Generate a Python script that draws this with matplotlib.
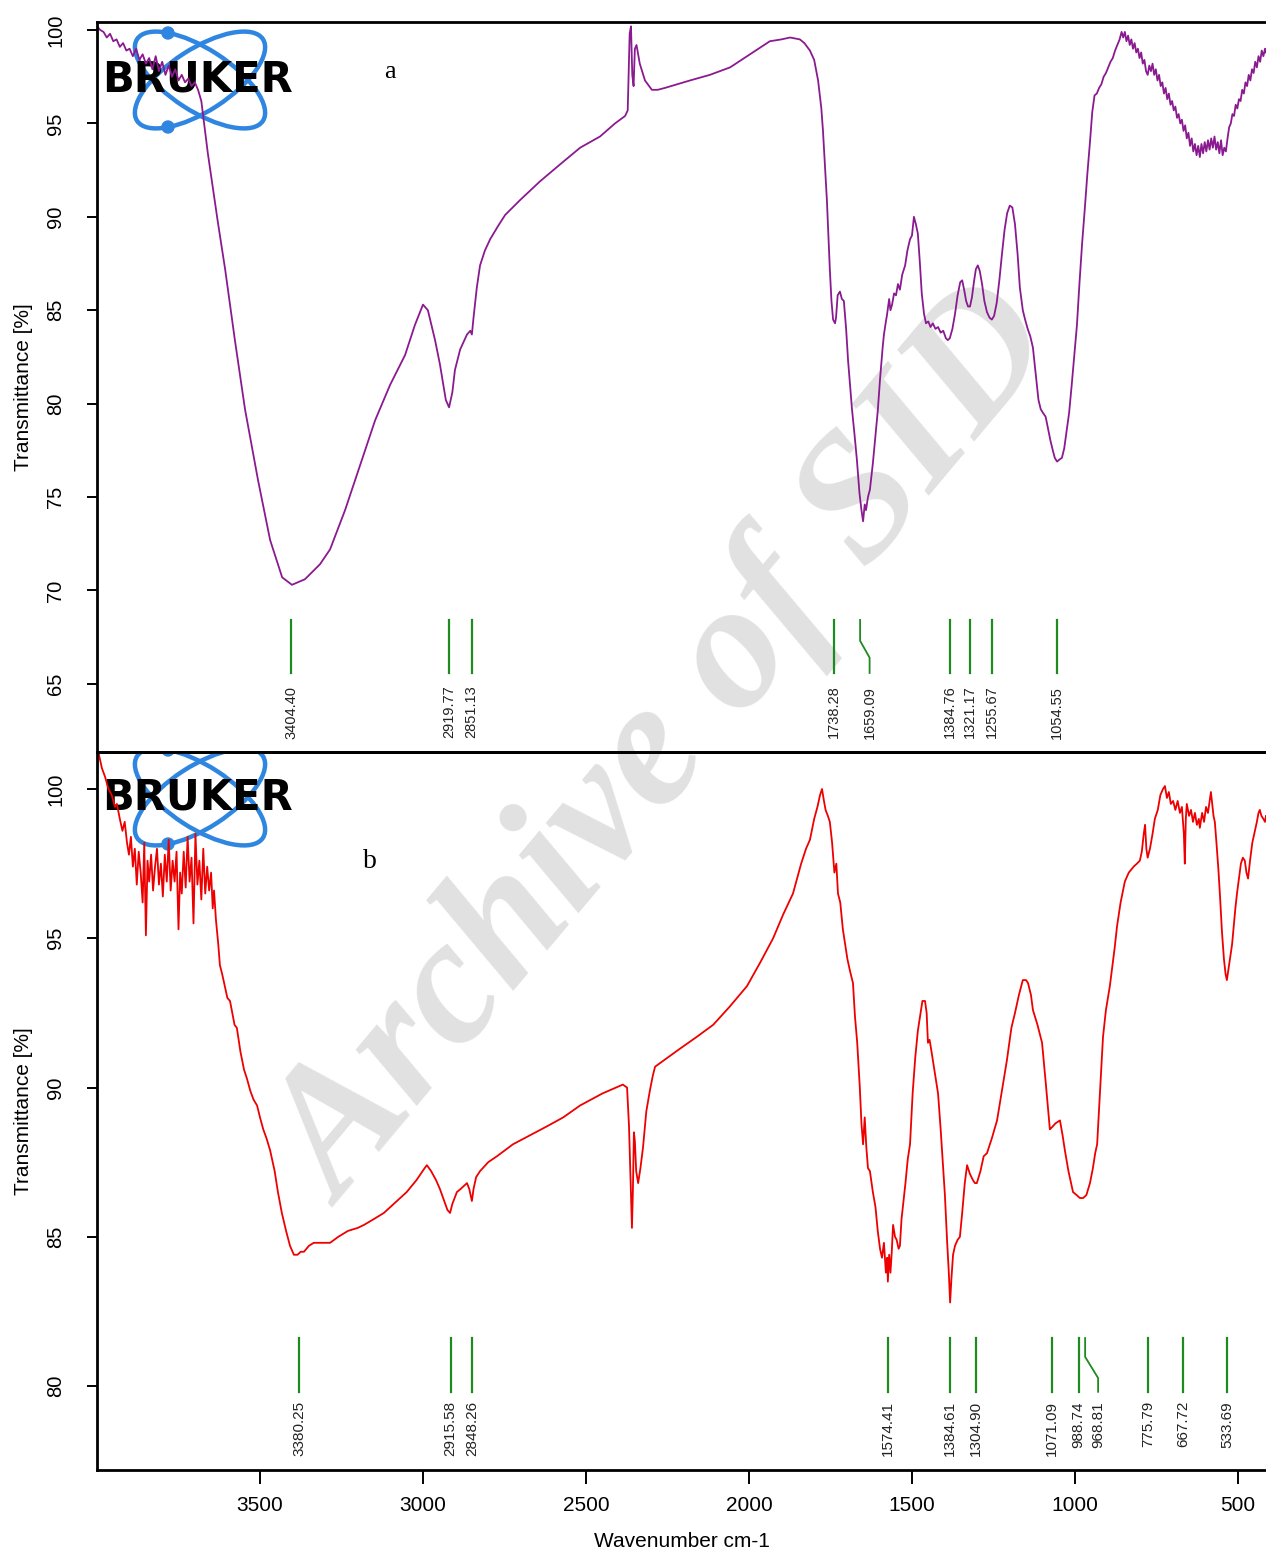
import matplotlib
matplotlib.use('Agg')
import matplotlib.pyplot as plt
from matplotlib.patches import Ellipse, Circle

# ---------------- data ----------------
top_wn = [4000, 3990, 3980, 3970, 3960, 3950, 3940, 3930, 3920, 3910, 3900, 3890, 3880, 3870, 3860,
          3850, 3840, 3830, 3820, 3810, 3800, 3790, 3780, 3770, 3760, 3750, 3740, 3730, 3720, 3710,
          3700, 3690, 3680, 3670, 3660, 3650, 3640, 3630, 3607, 3577, 3546, 3506, 3469, 3432, 3402,
          3362, 3316, 3285, 3239, 3193, 3147, 3101, 3055, 3025, 3000, 2985, 2963, 2948, 2930, 2920,
          2910, 2902, 2886, 2865, 2855, 2850, 2845, 2835, 2825, 2810, 2794, 2770, 2748, 2702, 2641,
          2580, 2518, 2457, 2411, 2380, 2372, 2366, 2362, 2358, 2354, 2350, 2345, 2335, 2319, 2298,
          2280, 2258, 2220, 2181, 2120, 2058, 1997, 1936, 1900, 1874, 1844, 1830, 1813, 1800, 1788,
          1778, 1773, 1767, 1761, 1756, 1752, 1747, 1742, 1736, 1733, 1728, 1721, 1715, 1709, 1702,
          1696, 1690, 1684, 1676, 1669, 1661, 1655, 1650, 1645, 1641, 1635, 1629, 1620, 1613, 1605,
          1598, 1590, 1586, 1580, 1577, 1570, 1566, 1561, 1555, 1549, 1543, 1537, 1530, 1521, 1514,
          1506, 1500, 1494, 1488, 1482, 1476, 1470, 1463, 1457, 1450, 1443, 1436, 1428, 1420, 1412,
          1404, 1396, 1390, 1384, 1376, 1368, 1360, 1352, 1346, 1340, 1334, 1328, 1322, 1316, 1310,
          1304, 1298, 1292, 1285, 1278, 1270, 1262, 1255, 1248, 1240, 1232, 1224, 1216, 1208, 1200,
          1192, 1184, 1176, 1169, 1160, 1153, 1145, 1137, 1129, 1120, 1112, 1105, 1098, 1090, 1082,
          1075, 1068, 1062, 1055, 1048, 1040, 1033, 1025, 1018, 1010, 1002, 994, 986, 978, 970,
          962, 954, 947, 940, 933, 926, 919, 912, 905, 898, 891, 884, 877, 870, 863,
          857, 852, 847, 842, 837, 832, 827, 822, 817, 812, 807, 802, 797, 792, 787,
          782, 777, 772, 767, 762, 757, 752, 747, 742, 737, 732, 727, 722, 717, 712,
          707, 702, 697, 692, 687, 682, 677, 672, 667, 662, 657, 652, 647, 642, 637,
          632, 627, 622, 617, 612, 607, 602, 597, 592, 587, 582, 577, 572, 567, 562,
          557, 552, 547, 542, 537, 532, 527, 522, 517, 512, 507, 502, 497, 492, 487,
          482, 477, 472, 467, 462, 457, 452, 447, 442, 437, 432, 427, 422, 417, 414]
top_T = [100.2, 100.0, 99.9, 99.6, 99.8, 99.4, 99.5, 99.1, 99.3, 98.9, 99.0, 98.6, 99.0, 98.4, 98.7,
         98.2, 98.5, 97.9, 98.6, 97.8, 98.3, 97.6, 98.1, 97.5, 97.9, 97.3, 97.6, 97.2, 97.4, 97.0,
         97.2, 96.8, 96.2, 94.8, 93.4, 92.2, 91.0, 89.8, 87.2, 83.4, 79.7, 75.9, 72.7, 70.7, 70.3,
         70.6, 71.4, 72.2, 74.3, 76.7, 79.1, 81.0, 82.6, 84.2, 85.3, 85.0, 83.4, 82.1, 80.2, 79.8,
         80.6, 81.8, 82.9, 83.7, 83.9, 83.7, 84.6, 86.2, 87.4, 88.2, 88.8, 89.5, 90.1, 90.9, 91.9,
         92.8, 93.7, 94.3, 95.0, 95.4, 95.7, 99.8, 100.2, 97.6, 97.0, 99.0, 99.2, 98.2, 97.3, 96.8,
         96.8, 96.9, 97.1, 97.3, 97.6, 98.0, 98.7, 99.4, 99.5, 99.6, 99.5, 99.3, 98.9, 98.4, 97.3,
         95.8, 94.6, 92.8, 90.9, 88.8, 87.2, 85.5, 84.5, 84.3, 84.6, 85.8, 86.0, 85.6, 85.5, 84.0,
         82.3, 81.0, 79.7, 78.3, 77.0, 75.2, 74.3, 73.7, 74.6, 74.3, 75.0, 75.4, 76.8, 78.1, 79.6,
         81.3, 83.0, 83.7, 84.4, 84.7, 85.6, 85.0, 85.3, 85.9, 85.8, 86.4, 86.1, 86.9, 87.4, 88.2,
         88.8, 89.0, 90.0, 89.6, 89.1, 87.6, 85.9, 84.8, 84.3, 84.4, 84.1, 84.3, 84.0, 84.1, 83.8,
         83.9, 83.5, 83.4, 83.5, 84.0, 84.8, 85.8, 86.5, 86.6, 86.1, 85.5, 85.2, 85.2, 85.7, 86.5,
         87.2, 87.4, 87.1, 86.4, 85.5, 84.9, 84.6, 84.5, 84.7, 85.4, 86.6, 88.0, 89.3, 90.2, 90.6,
         90.5, 89.6, 88.0, 86.2, 85.0, 84.5, 84.0, 83.6, 83.0, 81.5, 80.2, 79.7, 79.5, 79.3, 78.6,
         78.0, 77.5, 77.1, 76.9, 77.0, 77.1, 77.6, 78.6, 79.5, 81.0, 82.6, 84.2, 86.5, 88.6, 90.4,
         92.3, 94.0, 95.6, 96.5, 96.6, 96.9, 97.1, 97.5, 97.7, 98.0, 98.3, 98.5, 98.9, 99.2, 99.5,
         99.9, 99.6, 99.9, 99.4, 99.7, 99.2, 99.5, 99.0, 99.3, 98.8, 99.0, 98.5, 98.8, 98.2, 98.4,
         97.8, 97.6, 98.1, 97.8, 98.2, 97.6, 97.9, 97.3, 97.6, 97.0, 97.2, 96.6, 96.9, 96.3, 96.6,
         96.0, 96.2, 95.7, 95.9, 95.3, 95.5, 95.0, 95.2, 94.6, 94.9, 94.2, 94.5, 93.8, 94.2, 93.5,
         93.9, 93.3, 93.8, 93.2, 93.9, 93.4, 94.0, 93.5, 94.1, 93.6, 94.2, 93.7, 94.3, 93.6, 94.0,
         93.4, 94.1, 93.3, 93.7, 93.5, 94.2, 94.8, 95.0, 95.5, 95.4, 96.0, 95.8, 96.3, 96.2, 96.8,
         96.6, 97.2, 97.0, 97.6, 97.3, 97.9, 97.7, 98.3, 98.0, 98.6, 98.3, 98.9, 98.6, 99.0, 98.8]

bot_wn = [3995, 3985, 3975, 3965, 3955, 3945, 3939, 3930, 3922, 3915, 3908, 3902, 3896, 3890, 3884,
          3878, 3872, 3866, 3860, 3855, 3850, 3845, 3840, 3834, 3828, 3822, 3816, 3810, 3804, 3798,
          3792, 3786, 3780, 3774, 3768, 3762, 3756, 3750, 3745, 3740, 3734, 3728, 3722, 3716, 3710,
          3704, 3698, 3692, 3686, 3680, 3674, 3668, 3662, 3656, 3650, 3645, 3641, 3635, 3628, 3623,
          3616, 3608, 3600, 3592, 3585, 3578, 3571, 3560, 3549, 3540, 3530, 3520, 3509, 3500, 3490,
          3480, 3469, 3455, 3445, 3433, 3420, 3408, 3396, 3385, 3375, 3365, 3350, 3335, 3320, 3300,
          3285, 3260, 3230, 3200, 3181, 3150, 3120, 3080, 3050, 3020, 2995, 2988, 2975, 2960, 2948,
          2935, 2925, 2917, 2910, 2903, 2896, 2885, 2875, 2865, 2858, 2850, 2845, 2837, 2825, 2800,
          2773, 2724, 2672, 2620, 2570, 2518, 2450, 2387, 2374, 2368, 2362, 2359, 2356, 2353, 2350,
          2346, 2340, 2333, 2325, 2315, 2304, 2295, 2288, 2250, 2212, 2160, 2110, 2060, 2006, 1965,
          1926, 1895, 1865, 1840, 1825, 1813, 1800, 1790, 1782, 1776, 1770, 1765, 1758, 1752, 1745,
          1738, 1732, 1727, 1720, 1712, 1705, 1698, 1690, 1681, 1675, 1668, 1660, 1655, 1650, 1645,
          1640, 1635, 1629, 1620, 1612, 1605, 1598, 1592, 1586, 1580, 1576, 1574, 1570, 1566, 1562,
          1558, 1552, 1547, 1541, 1537, 1532, 1528, 1520, 1513, 1506, 1498, 1490, 1482, 1475, 1468,
          1460, 1455, 1451, 1446, 1440, 1430, 1420, 1412, 1405, 1399, 1392, 1387, 1383, 1379, 1374,
          1368, 1360, 1353, 1346, 1338, 1331, 1322, 1313, 1307, 1301, 1290, 1280, 1270, 1255, 1239,
          1224, 1209, 1195, 1184, 1172, 1160, 1150, 1144, 1135, 1129, 1115, 1101, 1090, 1077, 1068,
          1060, 1046, 1038, 1031, 1020, 1006, 995, 985, 975, 965, 954, 945, 938, 932, 925,
          914, 905, 893, 885, 878, 871, 860, 847, 835, 820, 810, 801, 795, 789, 785,
          781, 777, 770, 762, 755, 746, 738, 730, 724, 718, 712, 706, 699, 692, 685,
          678, 672, 666, 663, 660, 657, 650, 644, 638, 632, 626, 620, 617, 610, 604,
          598, 592, 587, 583, 579, 575, 571, 566, 560, 555, 549, 543, 538, 534, 530,
          525, 518, 512, 508, 503, 497, 491, 485, 479, 474, 469, 463, 456, 448, 442,
          437, 433, 428, 422, 417, 414]
bot_T = [101.2, 100.7, 100.4, 100.0, 99.8, 99.4, 99.5, 99.0, 98.6, 98.9, 98.2, 97.8, 98.4, 97.4, 98.0,
         96.8, 97.9, 97.2, 96.2, 98.2, 95.1, 97.6, 96.9, 97.8, 96.6, 97.4, 98.0, 96.8, 97.5, 96.4,
         97.8, 96.9, 98.3, 96.6, 97.6, 96.9, 97.9, 95.3, 97.2, 96.5, 97.9, 96.7, 98.4, 96.9, 97.7,
         95.5, 98.5, 96.8, 97.6, 96.3, 98.0, 96.5, 97.4, 96.6, 97.2, 96.0, 96.6, 95.6, 94.8, 94.1,
         93.8, 93.4, 93.0, 92.9, 92.5, 92.1, 92.0, 91.2, 90.6, 90.3, 89.9, 89.6, 89.4, 89.0, 88.6,
         88.3, 87.9, 87.2, 86.5, 85.8, 85.2, 84.7, 84.4, 84.4, 84.5, 84.5, 84.7, 84.8, 84.8, 84.8,
         84.8, 85.0, 85.2, 85.3, 85.4, 85.6, 85.8, 86.2, 86.5, 86.9, 87.3, 87.4, 87.2, 86.9, 86.6,
         86.2, 85.9, 85.8, 86.1, 86.3, 86.5, 86.6, 86.7, 86.8, 86.6, 86.2, 86.6, 87.0, 87.2, 87.5,
         87.7, 88.1, 88.4, 88.7, 89.0, 89.4, 89.8, 90.1, 90.0, 88.7, 86.5, 85.3, 86.6, 88.5, 88.2,
         87.2, 86.8, 87.3, 88.0, 89.2, 89.9, 90.4, 90.7, 91.0, 91.3, 91.7, 92.1, 92.7, 93.4, 94.2,
         95.0, 95.8, 96.5, 97.5, 98.0, 98.3, 99.0, 99.4, 99.8, 100.0, 99.6, 99.3, 99.1, 98.9, 98.2,
         97.2, 97.5, 96.5, 96.2, 95.3, 94.8, 94.3, 93.9, 93.5, 92.4, 91.5, 90.0, 88.8, 88.1, 89.0,
         88.0, 87.3, 87.2, 86.5, 86.0, 85.2, 84.6, 84.3, 84.8, 83.8, 84.3, 83.5, 84.4, 83.8, 84.5,
         85.4, 85.0, 84.9, 84.6, 84.7, 85.6, 86.0, 86.8, 87.6, 88.1, 89.8, 91.0, 91.9, 92.4, 92.9,
         92.9, 92.5, 91.5, 91.6, 91.2, 90.5, 89.8, 88.6, 87.4, 86.4, 84.8, 83.8, 82.8, 83.6, 84.4,
         84.7, 84.9, 85.0, 85.8, 86.8, 87.4, 87.1, 86.9, 86.8, 86.8, 87.2, 87.7, 87.8, 88.3, 88.9,
         89.9, 90.9, 92.0, 92.5, 93.1, 93.6, 93.6, 93.5, 93.1, 92.6, 92.1, 91.5, 90.2, 88.6, 88.7,
         88.8, 88.9, 88.4, 87.9, 87.2, 86.5, 86.4, 86.3, 86.3, 86.4, 86.8, 87.3, 87.8, 88.1, 89.5,
         91.7, 92.6, 93.4, 94.1, 94.7, 95.4, 96.2, 96.9, 97.2, 97.4, 97.5, 97.6, 97.9, 98.5, 98.8,
         98.0, 97.7, 98.0, 98.5, 99.0, 99.3, 99.8, 100.0, 100.1, 99.7, 99.9, 99.5, 99.6, 99.3, 99.6,
         99.2, 99.4, 98.5, 97.5, 99.0, 99.5, 99.1, 99.3, 98.9, 99.2, 98.8, 99.0, 98.7, 99.2, 98.9,
         99.4, 99.2, 99.6, 99.9, 99.5, 99.1, 98.9, 98.2, 97.3, 96.4, 95.2, 94.3, 93.8, 93.6, 93.9,
         94.3, 94.8, 95.5, 96.0, 96.5, 97.0, 97.5, 97.7, 97.6, 97.2, 97.0, 97.6, 98.2, 98.6, 98.9,
         99.2, 99.3, 99.1, 99.0, 98.9, 99.1]

top_peaks = [3404.40, 2919.77, 2851.13, 1738.28, 1659.09, 1384.76, 1321.17, 1255.67, 1054.55]
bot_peaks = [3380.25, 2915.58, 2848.26, 1574.41, 1384.61, 1304.90, 1071.09, 988.74, 968.81,
             775.79, 667.72, 533.69]
# label positions shifted to avoid overlap (peak -> label wavenumber)
top_label_shift = {1659.09: 1630.0}
bot_label_shift = {968.81: 929.0}

xticks = [3500, 3000, 2500, 2000, 1500, 1000, 500]
top_yticks = [65, 70, 75, 80, 85, 90, 95, 100]
bot_yticks = [80, 85, 90, 95, 100]

# ---------------- figure ----------------
W, H = 1266, 1557
fig = plt.figure(figsize=(W / 100, H / 100), dpi=100)


def fx(x):
    return x / W


def fy(y):
    return 1 - y / H


SANS = ['Liberation Sans', 'DejaVu Sans']
SERIF = ['Liberation Serif', 'DejaVu Serif']

# watermark (behind everything)
fig.text(fx(668), fy(748), 'Archive of SID', rotation=50, ha='center', va='center',
         fontsize=130, family=SERIF, weight='bold', style='italic', color='#e1e1e1', zorder=-5)

ax_top = fig.add_axes([fx(97), fy(752), 1 - fx(97), fy(22) - fy(752)])
ax_bot = fig.add_axes([fx(97), fy(1470), 1 - fx(97), fy(752) - fy(1470)])

GREEN = '#1f8a1f'
BLUE = '#2f86e0'


def draw_logo(ax, cx, cy):
    for ang in (-33, 33):
        e = Ellipse((cx / 100, (H - cy) / 100), 1.50, 0.62, angle=ang, fill=False,
                    ec=BLUE, lw=3.2, transform=fig.dpi_scale_trans, zorder=1)
        ax.add_patch(e)
    for dy in (-47, 47):
        c = Circle((168 / 100, (H - (cy + dy)) / 100), 0.06, color=BLUE,
                   transform=fig.dpi_scale_trans, zorder=1)
        ax.add_patch(c)
    t = ax.text(fx(198), fy(cy), 'BRUKER', transform=fig.transFigure, ha='center', va='center',
                fontsize=30, family='DejaVu Sans', weight='heavy', color='black', zorder=1.5)
    t.set_clip_path(ax.patch)


def style_axes(ax, yticks, ylim):
    ax.set_facecolor('none')
    ax.set_xlim(4000, 414)
    ax.set_ylim(*ylim)
    for s in ('left', 'top', 'bottom'):
        ax.spines[s].set_linewidth(2.0)
    ax.spines['right'].set_visible(False)
    ax.set_yticks(yticks)
    ax.set_yticklabels([str(v) for v in yticks], rotation=90, va='center',
                       fontsize=14.5, family=SANS)
    ax.tick_params(axis='y', direction='out', length=7, width=1.4, pad=16)
    ax.set_ylabel('Transmittance [%]', fontsize=15, family=SANS)
    ax.yaxis.set_label_coords(-0.055, 0.5)


def draw_peaks(ax, peaks, shift, t_top, t_mid1, t_mid2, t_bot, t_lab, fs):
    for p in peaks:
        lab = shift.get(p, p)
        if lab == p:
            ax.plot([p, p], [t_top, t_bot], color=GREEN, lw=1.6, zorder=2)
        else:
            ax.plot([p, p, lab, lab], [t_top, t_mid1, t_mid2, t_bot], color=GREEN, lw=1.3, zorder=2)
        ax.text(lab, t_lab, f'{p:.2f}', rotation=90, ha='center', va='top',
                fontsize=fs, family=SANS, color='#222222')


# top panel
style_axes(ax_top, top_yticks, (61.35, 100.43))
ax_top.tick_params(axis='x', bottom=False, labelbottom=False)
draw_logo(ax_top, 200, 80)
ax_top.plot(top_wn, top_T, color='#8a1a8f', lw=1.3, zorder=2)
draw_peaks(ax_top, top_peaks, top_label_shift, 68.42, 67.3, 66.4, 65.58, 64.9, 10.5)
ax_top.text(0.2506, 0.9315, 'a', transform=ax_top.transAxes, ha='center', va='center',
            fontsize=19, family=SERIF)

# bottom panel
style_axes(ax_bot, bot_yticks, (77.19, 101.24))
draw_logo(ax_bot, 200, 797)
ax_bot.plot(bot_wn, bot_T, color='#ee0000', lw=1.3, zorder=2)
draw_peaks(ax_bot, bot_peaks, bot_label_shift, 81.61, 80.98, 80.27, 79.81, 79.5, 11)
ax_bot.text(0.2335, 0.8468, 'b', transform=ax_bot.transAxes, ha='center', va='center',
            fontsize=20, family=SERIF)
ax_bot.set_xticks(xticks)
ax_bot.set_xticklabels([str(v) for v in xticks], fontsize=15, family=SANS)
ax_bot.tick_params(axis='x', direction='out', length=10, width=1.4, pad=9)
ax_bot.set_xlabel('Wavenumber cm-1', fontsize=15, family=SANS)
ax_bot.xaxis.set_label_coords(0.5, -0.087)

fig.savefig('out.png', dpi=100)
